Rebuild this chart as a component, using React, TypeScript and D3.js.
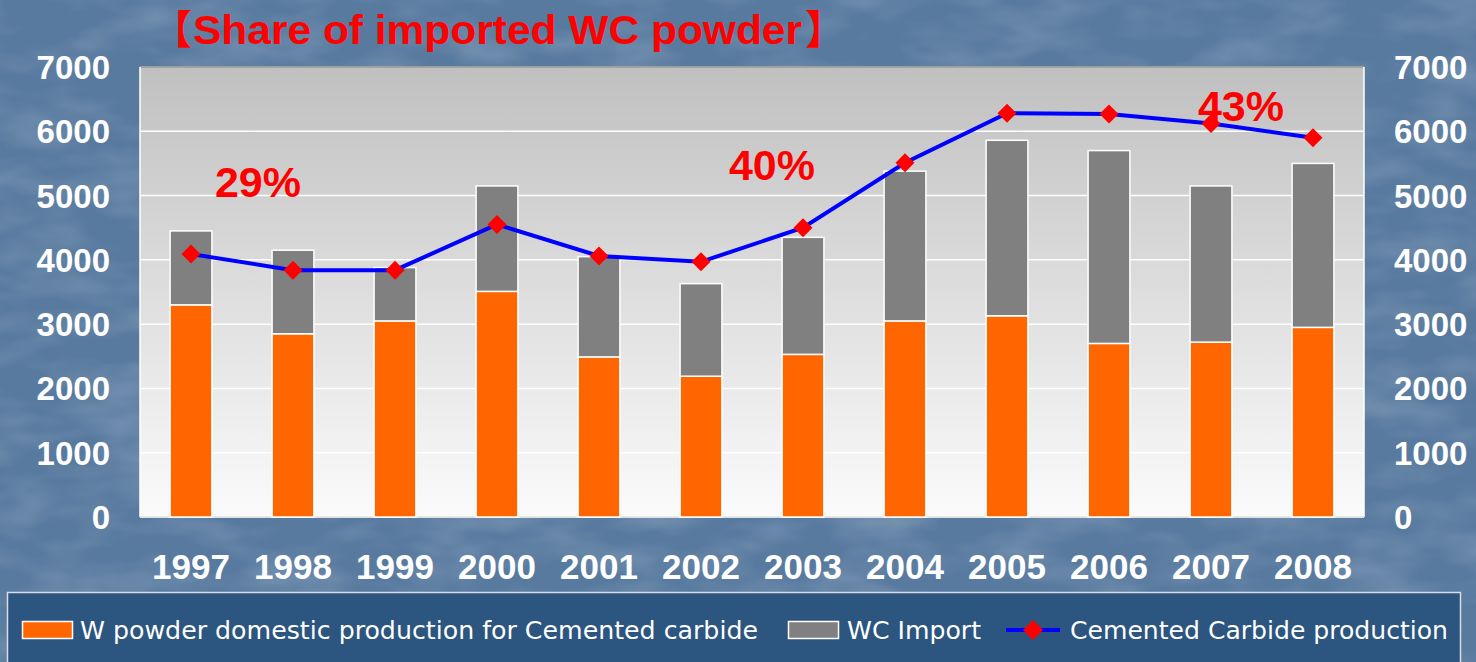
import React from "react";
import * as d3 from "d3";

const years = ["1997","1998","1999","2000","2001","2002","2003","2004","2005","2006","2007","2008"];
const domesticW = [3300,2850,3050,3510,2490,2190,2530,3050,3130,2700,2720,2950];
const totalStack = [4450,4150,3880,5150,4050,3630,4350,5380,5860,5700,5150,5500];
const cementedCarbide = [4090,3840,3840,4550,4060,3970,4500,5510,6280,6270,6120,5900];
const yTicks = [0,1000,2000,3000,4000,5000,6000,7000];
const shareLabels = [
  { text: "29%", year: "1997", value: 4980, dx: 67 },
  { text: "40%", year: "2002", value: 5240, dx: 71 },
  { text: "43%", year: "2007", value: 6160, dx: 30 },
];
const titleOpen = "【";
const titleMain = "Share of imported WC powder";
const titleClose = "】";
const legendLabels = ["W powder domestic production for Cemented carbide", "WC Import", "Cemented Carbide production"];

const W = 1476, H = 662;
const plotL = 140, plotR = 1364, plotT = 67, plotB = 517;

export default function App() {
  const x = d3.scaleBand<string>().domain(years).range([plotL, plotR]).paddingInner(0.59).paddingOuter(0.295);
  const y = d3.scaleLinear().domain([0, 7000]).range([plotB, plotT]);
  const bw = x.bandwidth();
  const cx = (yr: string) => (x(yr) as number) + bw / 2;
  const line = d3.line<number>().x((_, i) => cx(years[i])).y((v) => y(v));
  const dia = (px: number, py: number, r: number) => `M${px},${py - r}L${px + r},${py}L${px},${py + r}L${px - r},${py}Z`;
  const sans = "'Liberation Sans', Arial, sans-serif";
  const cjk = "'Noto Sans CJK JP', sans-serif";

  return (
    <svg width={W} height={H} style={{ position: "absolute", left: 0, top: 0 }}>
      <defs>
        <linearGradient id="plotbg" x1="0" y1="0" x2="0" y2="1">
          <stop offset="0" stopColor="#c0c0c0" />
          <stop offset="1" stopColor="#fbfbfb" />
        </linearGradient>
        <filter id="tex" x="0" y="0" width="100%" height="100%">
          <feTurbulence type="fractalNoise" baseFrequency="0.012 0.03" numOctaves="3" seed="4" />
          <feColorMatrix type="matrix" values="0 0 0 0 1  0 0 0 0 1  0 0 0 0 1  0 0 0 0.9 -0.35" />
        </filter>
      </defs>
      <rect x={0} y={0} width={W} height={H} fill="#587a9f" />
      <rect x={0} y={0} width={W} height={H} filter="url(#tex)" opacity={0.35} />

      <text y={44} fill="#ff0000" fontFamily={sans} fontWeight="bold" fontSize={40}>
        <tspan x={152} fontFamily={cjk}>{titleOpen}</tspan>
        <tspan x={193} textLength={609} lengthAdjust="spacingAndGlyphs">{titleMain}</tspan>
        <tspan x={805} fontFamily={cjk}>{titleClose}</tspan>
      </text>

      <rect x={plotL} y={plotT} width={plotR - plotL} height={plotB - plotT} fill="url(#plotbg)" />
      {yTicks.map((t) => (
        <line key={"g" + t} x1={plotL} x2={plotR} y1={y(t)} y2={y(t)} stroke="#ffffff" strokeWidth={1.5} />
      ))}
      <line x1={plotL} x2={plotR} y1={plotT} y2={plotT} stroke="#8a8a8a" strokeWidth={1.5} />
      <line x1={plotL} x2={plotL} y1={plotT} y2={plotB} stroke="#ffffff" strokeWidth={1.5} />
      <line x1={plotR} x2={plotR} y1={plotT} y2={plotB} stroke="#ffffff" strokeWidth={1.5} />
      <line x1={plotL} x2={plotR} y1={plotB} y2={plotB} stroke="#e0e0e0" strokeWidth={1.5} />

      {years.map((yr, i) => (
        <g key={yr}>
          <rect x={x(yr)} y={y(domesticW[i])} width={bw} height={y(0) - y(domesticW[i])} fill="#ff6600" stroke="#ffffff" strokeWidth={1.5} />
          <rect x={x(yr)} y={y(totalStack[i])} width={bw} height={y(domesticW[i]) - y(totalStack[i])} fill="#808080" stroke="#ffffff" strokeWidth={1.5} />
        </g>
      ))}

      <path d={line(cementedCarbide) as string} fill="none" stroke="#0000ff" strokeWidth={4} />
      {cementedCarbide.map((v, i) => (
        <path key={i} d={dia(cx(years[i]), y(v), 9.5)} fill="#ff0000" />
      ))}

      {shareLabels.map((s) => (
        <text key={s.text} x={cx(s.year) + s.dx} y={y(s.value)} textAnchor="middle" fill="#ff0000" fontFamily={sans} fontWeight="bold" fontSize={43}>{s.text}</text>
      ))}

      {yTicks.map((t) => (
        <text key={"l" + t} x={110} y={y(t) + 12} textAnchor="end" fill="#ffffff" fontFamily={sans} fontWeight="bold" fontSize={33}>{t}</text>
      ))}
      {yTicks.map((t) => (
        <text key={"r" + t} x={1394} y={y(t) + 12} textAnchor="start" fill="#ffffff" fontFamily={sans} fontWeight="bold" fontSize={33}>{t}</text>
      ))}
      {years.map((yr) => (
        <text key={"x" + yr} x={cx(yr)} y={579} textAnchor="middle" fill="#ffffff" fontFamily={sans} fontWeight="bold" fontSize={35}>{yr}</text>
      ))}

      <rect x={7.5} y={592.5} width={1453} height={80} fill="#2c5580" stroke="#d8dde6" strokeWidth={1.5} />
      <g fontFamily="'DejaVu Sans Condensed', 'DejaVu Sans', sans-serif" fontSize={25} fill="#ffffff">
        <rect x={22.5} y={621.5} width={50} height={17} fill="#ff6600" stroke="#ffffff" strokeWidth={1.5} />
        <text x={80} y={639} textLength={678} lengthAdjust="spacingAndGlyphs">{legendLabels[0]}</text>
        <rect x={788.5} y={621.5} width={50} height={17} fill="#808080" stroke="#ffffff" strokeWidth={1.5} />
        <text x={847} y={639} textLength={134} lengthAdjust="spacingAndGlyphs">{legendLabels[1]}</text>
        <line x1={1006} x2={1060} y1={630} y2={630} stroke="#0000ff" strokeWidth={4} />
        <path d={dia(1033, 630, 10)} fill="#ff0000" />
        <text x={1070} y={639} textLength={378} lengthAdjust="spacingAndGlyphs">{legendLabels[2]}</text>
      </g>
    </svg>
  );
}
